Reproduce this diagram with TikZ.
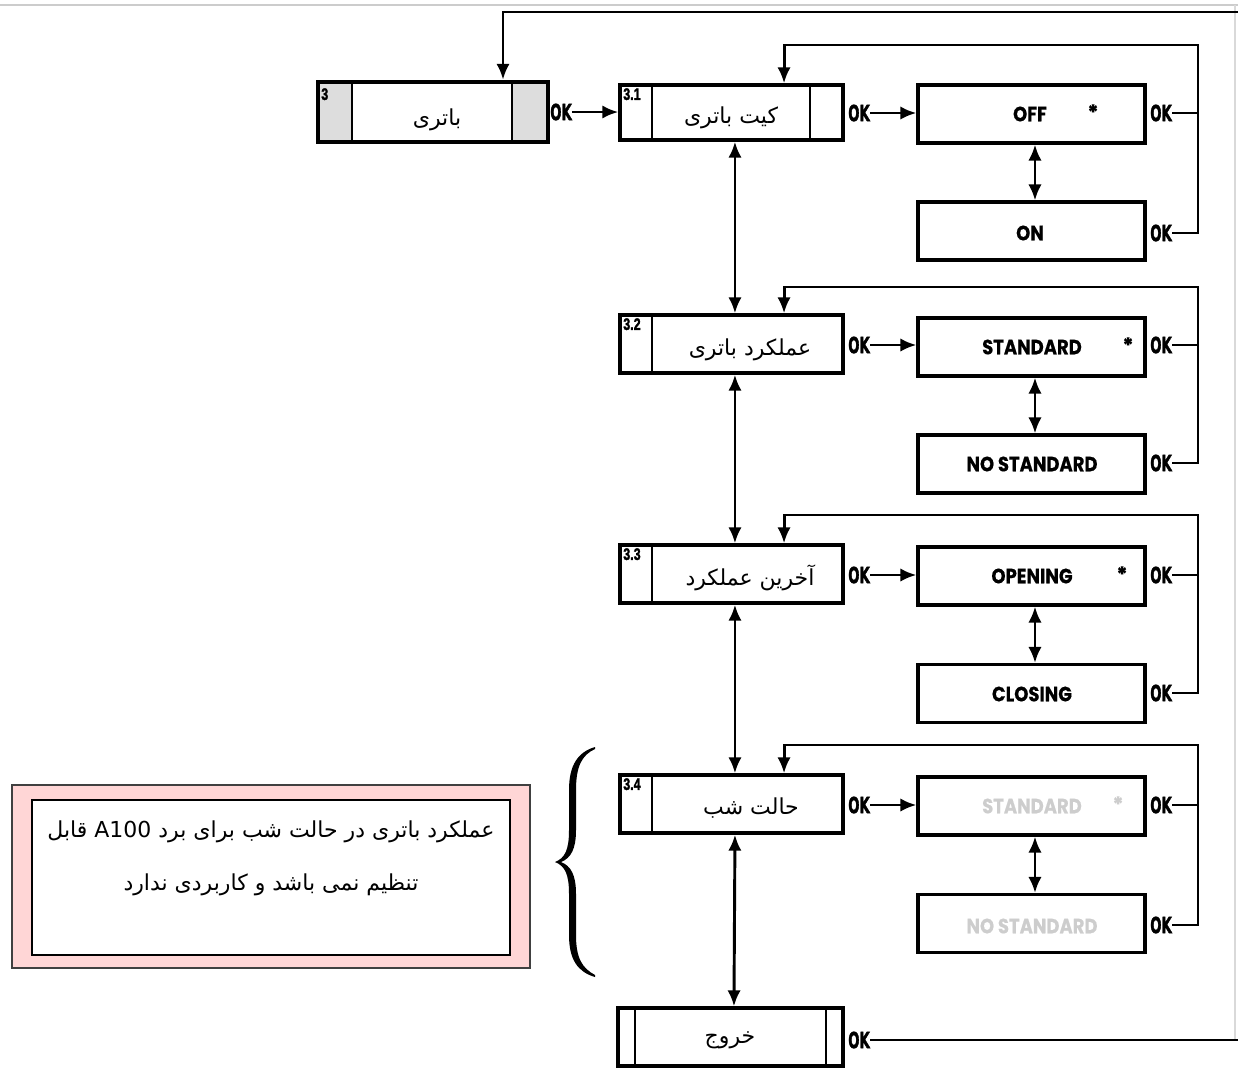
\documentclass[tikz,border=0pt]{standalone}
\usepackage{fontspec}
\usepackage{graphicx}
\usetikzlibrary{arrows.meta}
\TeXXeTstate=1
\newfontfamily\fa[Script=Arabic]{DejaVu Sans}
\newfontfamily\oksans[BoldFeatures={FakeBold=2.5}]{DejaVu Sans}
\newfontfamily\numsans[BoldFeatures={FakeBold=2}]{Liberation Sans}
\newfontfamily\optfont[BoldFeatures={FakeBold=0.6}]{Poppins}
\definecolor{pinkfill}{RGB}{255,214,214}
\definecolor{secgray}{RGB}{221,221,221}
\definecolor{dimtext}{RGB}{205,205,205}
\newcommand\OKtxt{\scalebox{0.6}[1]{OK}}
\newcommand\NUMtxt[1]{\scalebox{0.75}[1]{#1}}
\newcommand\OPT[1]{\scalebox{0.87}[1]{#1}}
\begin{document}
\begin{tikzpicture}[x=0.75pt,y=-0.75pt,
  menubox/.style={draw, line width=2.5pt, inner sep=0pt, minimum width=223*0.75pt, minimum height=58*0.75pt},
  optbox/.style={draw, line width=2.3pt, inner sep=0pt, minimum width=227*0.75pt, minimum height=58*0.75pt},
  opttext/.style={inner sep=0pt, font=\optfont\bfseries\fontsize{15.5}{16}\selectfont},
  dimopt/.style={opttext, text=dimtext},
  ok/.style={inner sep=0pt, font=\oksans\bfseries\fontsize{16.5}{16}\selectfont},
  num/.style={inner sep=0pt, anchor=north west, font=\numsans\bfseries\fontsize{12.5}{12}\selectfont},
  fatext/.style={inner sep=0pt, font=\fa\fontsize{16.5}{19}\selectfont},
  conn/.style={line width=2.2pt},
  arr/.style={conn, -{Latex[length=12pt,width=10pt]}},
  dbl/.style={conn, {Latex[length=12pt,width=10pt]}-{Latex[length=12pt,width=10pt]}}
]
\useasboundingbox (0,0) rectangle (1238,1068);
% screenshot frame lines
\draw[gray!40, line width=1.2pt] (0,5) -- (1238,5);
\draw[gray!30, line width=1.2pt] (1235,5) -- (1235,1040);

% ---- box 3
\fill[secgray] (318,82) rectangle (352,142);
\fill[secgray] (512,82) rectangle (548,142);
\node[draw, line width=3.3pt, inner sep=0pt, minimum width=230*0.75pt, minimum height=60*0.75pt] (b3) at (433,112) {};
\draw[line width=1.6pt] (352,82) -- (352,142);
\draw[line width=1.6pt] (512,82) -- (512,142);
\node[num] (n3) at (321,88) {\NUMtxt{3}};
\node[fatext] (t3) at (437,120) {\beginR باتری\endR};
\node[ok] (ok3) at (561,112) {\OKtxt};

% ---- menu boxes
\node[menubox, minimum height=55*0.75pt] (b31) at (731.5,112.5) {};
\draw[line width=1.6pt] (652,85) -- (652,140);
\draw[line width=1.6pt] (810,85) -- (810,140);
\node[num] (n31) at (623,88) {\NUMtxt{3.1}};
\node[fatext] (t31) at (731,118) {\beginR کیت باتری\endR};

\node[menubox] (b32) at (731.5,344) {};
\draw[line width=1.6pt] (652,315) -- (652,373);
\node[num] (n32) at (623,318) {\NUMtxt{3.2}};
\node[fatext] (t32) at (750,350) {\beginR عملکرد باتری\endR};

\node[menubox] (b33) at (731.5,574) {};
\draw[line width=1.6pt] (652,545) -- (652,603);
\node[num] (n33) at (623,548) {\NUMtxt{3.3}};
\node[fatext] (t33) at (750,578) {\beginR آخرین عملکرد\endR};

\node[menubox] (b34) at (731.5,804) {};
\draw[line width=1.6pt] (652,775) -- (652,833);
\node[num] (n34) at (623,778) {\NUMtxt{3.4}};
\node[fatext] (t34) at (751,808) {\beginR حالت شب\endR};

\node[menubox, minimum width=225*0.75pt] (bx) at (730.5,1037) {};
\draw[line width=1.6pt] (635,1008) -- (635,1066);
\draw[line width=1.6pt] (826,1008) -- (826,1066);
\node[fatext] (tx) at (730,1040) {\beginR خروج\endR};

% ---- OK labels left
\node[ok] (okL1) at (859,113) {\OKtxt};
\node[ok] (okL2) at (859,345) {\OKtxt};
\node[ok] (okL3) at (859,575) {\OKtxt};
\node[ok] (okL4) at (859,805) {\OKtxt};
\node[ok] (okE) at (859,1040) {\OKtxt};

% ---- option boxes
\node[optbox] (off) at (1031.5,114) {};
\node[opttext] (toff) at (1030,114) {\OPT{OFF}};
\node[opttext] (soff) at (1093,112) {*};
\node[optbox] (on) at (1031.5,231) {};
\node[opttext] (ton) at (1030,233) {\OPT{ON}};

\node[optbox] (std) at (1031.5,347) {};
\node[opttext] (tstd) at (1032,347) {\OPT{STANDARD}};
\node[opttext] (sstd) at (1128,345) {*};
\node[optbox] (nstd) at (1031.5,464) {};
\node[opttext] (tnstd) at (1032,464) {\OPT{NO STANDARD}};

\node[optbox] (open) at (1031.5,576) {};
\node[opttext] (topen) at (1032,576) {\OPT{OPENING}};
\node[opttext] (sopen) at (1122,574) {*};
\node[optbox] (clos) at (1031.5,693.5) {};
\node[opttext] (tclos) at (1032,694) {\OPT{CLOSING}};

\node[optbox] (std2) at (1031.5,806) {};
\node[dimopt] (tstd2) at (1032,806) {\OPT{STANDARD}};
\node[dimopt] (sstd2) at (1118,804) {*};
\node[optbox] (nstd2) at (1031.5,923.5) {};
\node[dimopt] (tnstd2) at (1032,926) {\OPT{NO STANDARD}};

% ---- OK labels right
\node[ok] (okR1) at (1161,113) {\OKtxt};
\node[ok] (okR2) at (1161,233) {\OKtxt};
\node[ok] (okR3) at (1161,345) {\OKtxt};
\node[ok] (okR4) at (1161,463) {\OKtxt};
\node[ok] (okR5) at (1161,575) {\OKtxt};
\node[ok] (okR6) at (1161,693) {\OKtxt};
\node[ok] (okR7) at (1161,805) {\OKtxt};
\node[ok] (okR8) at (1161,925) {\OKtxt};

% ---- connectors
\draw[arr] (ok3.east) -- (ok3.east -| b31.west);
\draw[arr] (okL1.east) -- (okL1.east -| off.west);
\draw[arr] (okL2.east) -- (okL2.east -| std.west);
\draw[arr] (okL3.east) -- (okL3.east -| open.west);
\draw[arr] (okL4.east) -- (okL4.east -| std2.west);

\draw[dbl] ([xshift=2.6pt]b31.south) -- ([xshift=2.6pt]b32.north);
\draw[dbl] ([xshift=2.6pt]b32.south) -- ([xshift=2.6pt]b33.north);
\draw[dbl] ([xshift=2.6pt]b33.south) -- ([xshift=2.6pt]b34.north);
\draw[dbl] ([xshift=2.6pt]b34.south) -- ([xshift=2.6pt]bx.north);

\draw[dbl] ([xshift=2.6pt]off.south) -- ([xshift=2.6pt]on.north);
\draw[dbl] ([xshift=2.6pt]std.south) -- ([xshift=2.6pt]nstd.north);
\draw[dbl] ([xshift=2.6pt]open.south) -- ([xshift=2.6pt]clos.north);
\draw[dbl] ([xshift=2.6pt]std2.south) -- ([xshift=2.6pt]nstd2.north);

\coordinate (r1) at (1198,45);
\coordinate (r2) at (1198,287);
\coordinate (r3) at (1198,515);
\coordinate (r4) at (1198,745);
\draw[arr] (okR1.east) -| (r1) -| ([xshift=39.4pt]b31.north);
\draw[conn] (okR2.east) -| (r1);
\draw[arr] (okR3.east) -| (r2) -| ([xshift=39.4pt]b32.north);
\draw[conn] (okR4.east) -| (r2);
\draw[arr] (okR5.east) -| (r3) -| ([xshift=39.4pt]b33.north);
\draw[conn] (okR6.east) -| (r3);
\draw[arr] (okR7.east) -| (r4) -| ([xshift=39.4pt]b34.north);
\draw[conn] (okR8.east) -| (r4);

\coordinate (tr) at (1250,12);
\draw[arr] (okE.east) -| (tr) -| ([xshift=52.5pt]b3.north);

% ---- brace
\fill (595,747) .. controls (578,752) and (569,765) .. (569,790) -- (569,830)
  .. controls (569,850) and (565,858) .. (555,862)
  .. controls (565,866) and (569,874) .. (569,894) -- (569,935)
  .. controls (569,960) and (578,972) .. (595,977)
  -- (595,975) .. controls (582,968) and (576,958) .. (576,935) -- (576,894)
  .. controls (576,875) and (571,866) .. (561,862)
  .. controls (571,858) and (576,849) .. (576,830) -- (576,790)
  .. controls (576,766) and (582,755) .. (595,749) -- cycle;

% ---- note box
\node[draw=black!75, line width=1.5pt, fill=pinkfill, inner sep=0pt, minimum width=518*0.75pt, minimum height=183*0.75pt] (pinkbox) at (271,876.5) {};
\node[draw, line width=1.5pt, fill=white, inner sep=0pt, minimum width=478*0.75pt, minimum height=155*0.75pt] (note) at (271,877.5) {};
\node[fatext, font=\fa\fontsize{16.5}{19}\selectfont] (note1) at (271,832) {\beginR عملکرد باتری در حالت شب برای برد \beginL A100\endL{} قابل\endR};
\node[fatext, font=\fa\fontsize{16.5}{19}\selectfont] (note2) at (271,885) {\beginR تنظیم نمی باشد و کاربردی ندارد\endR};
\end{tikzpicture}
\end{document}
